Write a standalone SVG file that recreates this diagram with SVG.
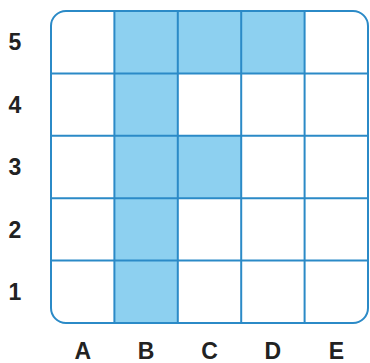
<svg xmlns="http://www.w3.org/2000/svg" width="370" height="363" viewBox="0 0 370 363">
<style>
.fill{fill:#8dd0f0}
.ln{stroke:#2b8ac7;stroke-width:2;fill:none}
.lbl{font-family:"Liberation Sans",Arial,sans-serif;font-weight:bold;font-size:23px;fill:#222;text-anchor:middle}
</style>
<rect width="370" height="363" fill="#fff"/>
<g id="shaded">
<rect class="fill" x="114.4" y="11" width="63.4" height="312"/>
<rect class="fill" x="177.8" y="11" width="63.4" height="62.4"/>
<rect class="fill" x="241.2" y="11" width="63.4" height="62.4"/>
<rect class="fill" x="177.8" y="135.8" width="63.4" height="62.4"/>
</g>
<g id="grid" class="ln">
<path d="M114.4 11V323M177.8 11V323M241.2 11V323M304.6 11V323M51 73.4H368M51 135.8H368M51 198.2H368M51 260.6H368"/>
<rect x="51" y="11" width="317" height="312" rx="15" ry="15"/>
</g>
<g id="rows">
<text class="lbl" x="15" y="50">5</text>
<text class="lbl" x="15" y="112.5">4</text>
<text class="lbl" x="15" y="175">3</text>
<text class="lbl" x="15" y="237.5">2</text>
<text class="lbl" x="15" y="300" fill="#3a1a1a">1</text>
</g>
<g id="cols">
<text class="lbl" x="82.7" y="359">A</text>
<text class="lbl" x="146.1" y="359">B</text>
<text class="lbl" x="209.5" y="359">C</text>
<text class="lbl" x="272.9" y="359">D</text>
<text class="lbl" x="336.3" y="359">E</text>
</g>
</svg>
